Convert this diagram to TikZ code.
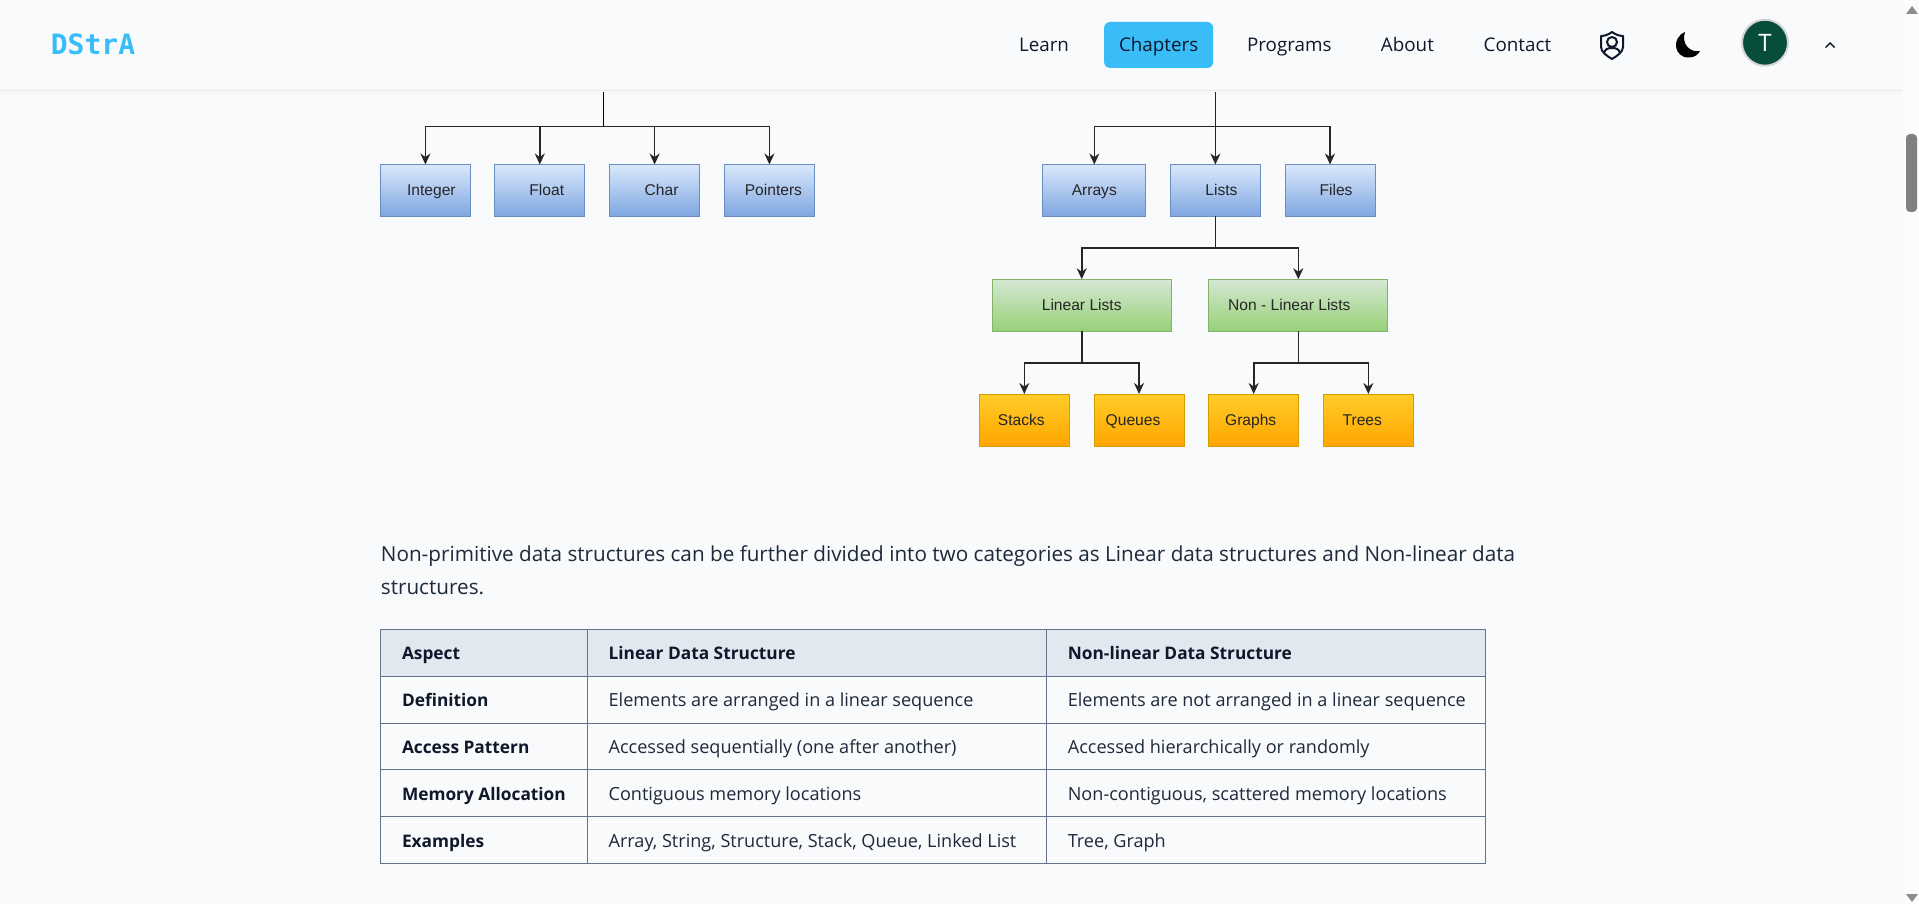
\documentclass[tikz,border=0pt]{standalone}
\usepackage{fontspec}
\setmainfont{Open Sans}
\newfontfamily\boxfont{Liberation Sans}
\newfontfamily\logofont{DejaVu Sans Mono}
\usetikzlibrary{arrows.meta}
\definecolor{cbg}{HTML}{F8FAFC}
\definecolor{csky}{HTML}{38BDF8}
\definecolor{cink}{HTML}{0F172A}
\definecolor{cpar}{HTML}{1E293B}
\definecolor{cgrid}{HTML}{64748B}
\definecolor{chead}{HTML}{E2E8F0}
\definecolor{cavatar}{HTML}{064E3B}
\definecolor{bt}{HTML}{DAE8FC}
\definecolor{bb}{HTML}{7EA6E0}
\definecolor{bd}{HTML}{6C8EBF}
\definecolor{gt}{HTML}{D5E8D4}
\definecolor{gb}{HTML}{97D077}
\definecolor{gd}{HTML}{82B366}
\definecolor{ot}{HTML}{FFCD28}
\definecolor{ob}{HTML}{FFA500}
\definecolor{od}{HTML}{D79B00}
\newcommand{\pxfont}[1]{\fontsize{#1}{#1}\selectfont}
\tikzset{
  boxbase/.style={rectangle, inner sep=0pt, outer sep=0pt, minimum height=52pt, line width=1pt, text=black!85, text height=13pt, text depth=3pt, font=\boxfont\pxfont{15.6}},
  bluebox/.style={boxbase, draw=bd, top color=bt, bottom color=bb},
  greenbox/.style={boxbase, draw=gd, top color=gt, bottom color=gb},
  orangebox/.style={boxbase, draw=od, top color=ot, bottom color=ob},
  link/.style={line width=1.6pt, draw=black!85, -{Stealth[length=11pt,width=10pt]}},
  trunk/.style={line width=1.6pt, draw=black!85},
  navitem/.style={text=cink, text height=16.6pt, text depth=4pt, font=\pxfont{18.8}, inner sep=0pt},
  paraline/.style={anchor=base west, inner sep=0pt, text=cpar, font=\pxfont{20.7}},
  cellhead/.style={anchor=base west, inner sep=0pt, text=cink, font=\bfseries\pxfont{17.3}},
  cellbody/.style={anchor=base west, inner sep=0pt, text=cpar, font=\pxfont{18.1}}
}
\begin{document}
\begin{tikzpicture}[x=1pt,y=-1pt]
  \useasboundingbox (0,0) rectangle (1919,904);
  \fill[cbg] (0,0) rectangle (1919,904);
  \fill[black!3] (0,91) rectangle (1902,94);
  \draw[line width=1pt, draw=black!9] (0,91) -- (1902,91);

  \node[text=csky, font=\logofont\bfseries\pxfont{28}, inner sep=0pt] (logo) at (93,44) {DStrA};
  \node[navitem, fill=csky, rounded corners=6pt, minimum width=109pt, minimum height=46pt] (chapters) at (1158.6,45) {Chapters};
  \foreach \n/\t/\x in {learn/Learn/1044, programs/Programs/1289.3, about/About/1407.4, contact/Contact/1517.4}
    \node[navitem] (\n) at (\x,45) {\t};

  \draw[cink, line width=2pt, line join=round] (1612,32) .. controls (1608,35) and (1604,36) .. (1601,36) -- (1601,47) .. controls (1601,52) and (1607,56) .. (1612,59) .. controls (1617,56) and (1623,52) .. (1623,47) -- (1623,36) .. controls (1620,36) and (1616,35) .. (1612,32) -- cycle;
  \draw[cink, line width=2pt] (1612,42) circle (5pt);
  \draw[cink, line width=2pt] (1604,53) .. controls (1605,49) and (1608,48) .. (1612,48) .. controls (1616,48) and (1619,49) .. (1620,53);
  \fill[black] (1685,32) .. controls (1671,38) and (1674,58) .. (1689,57.5) .. controls (1694,57.5) and (1698,55) .. (1700,51) .. controls (1690,53) and (1681,44) .. (1685,32) -- cycle;
  \node[circle, draw=black!17, line width=2pt, fill=cavatar, minimum size=46pt, inner sep=0pt, text=white, font=\pxfont{24}] (avatar) at (1765,42.7) {T};
  \draw[cink, line width=1.4pt] (1825.5,47.5) -- (1830,43) -- (1834.5,47.5);

  \fill[white!40!cbg] (1902,0) rectangle (1919,904);
  \fill[black!45] (1912,6) -- (1918,14) -- (1906,14) -- cycle;
  \fill[black!45] (1912,902) -- (1918,894) -- (1906,894) -- cycle;
  \fill[black!50, rounded corners=4pt] (1906,134) rectangle (1917,212);

  \foreach \n/\t/\x/\s in {integer/Integer/425.4/12pt, float/Float/539.8/14pt, char/Char/654.6/14pt, pointers/Pointers/769.4/8pt}
    \node[bluebox, minimum width=90pt] (\n) at (\x,190.5) {\hspace*{\s}\t};
  \foreach \n/\t/\x/\w/\s in {arrays/Arrays/1094.3/103/0pt, lists/Lists/1215.4/90/12pt, files/Files/1330/90/12pt}
    \node[bluebox, minimum width=\w pt] (\n) at (\x,190.5) {\hspace*{\s}\t};
  \foreach \n/\t/\x/\s in {linear/Linear Lists/1081.7/0pt, nonlinear/Non - Linear Lists/1298.3/-18pt}
    \node[greenbox, minimum width=179pt] (\n) at (\x,305.2) {\hspace*{\s}\t};
  \foreach \n/\t/\x/\s in {stacks/Stacks/1024.3/-6pt, queues/Queues/1139/-12pt, graphs/Graphs/1253.7/-6pt, trees/Trees/1368.3/-12pt}
    \node[orangebox, minimum width=90pt] (\n) at (\x,420) {\hspace*{\s}\t};

  \coordinate (primtop) at (603.9,92);
  \coordinate (nonprimtop) at (1215.4,92);
  \coordinate (primbus) at (603.9,126.7);
  \coordinate (nonprimbus) at (1215.4,126.7);
  \coordinate (listbus) at (1215.4,247.7);
  \coordinate (linbus) at (1081.7,362.7);
  \coordinate (nonbus) at (1298.3,362.7);
  \draw[line width=1pt] (primtop) -- (primbus);
  \foreach \n in {integer,float,char,pointers}
    \draw[link] (primbus) -| (\n.north);
  \draw[link, line width=1pt] (nonprimtop) -- (lists.north);
  \foreach \n in {arrays,files}
    \draw[link] (nonprimbus) -| (\n.north);
  \draw[trunk] (lists.south) -- (listbus);
  \foreach \n in {linear,nonlinear}
    \draw[link] (listbus) -| (\n.north);
  \draw[trunk] (linear.south) -- (linbus);
  \foreach \n in {stacks,queues}
    \draw[link] (linbus) -| (\n.north);
  \draw[trunk] (nonlinear.south) -- (nonbus);
  \foreach \n in {graphs,trees}
    \draw[link] (nonbus) -| (\n.north);

  \node[paraline] (para1) at (380.7,561.5) {Non-primitive data structures can be further divided into two categories as Linear data structures and Non-linear data};
  \node[paraline] (para2) at (380.7,594.5) {structures.};

  \fill[chead] (380.7,629.3) rectangle (1485.6,676.3);
  \draw[cgrid, line width=1pt] (380.7,629.3) rectangle (1485.6,863.3);
  \foreach \x in {587.3,1046.4}
    \draw[cgrid, line width=1pt] (\x,629.3) -- (\x,863.3);
  \foreach \y in {676.3,723.3,769.3,816.3}
    \draw[cgrid, line width=1pt] (380.7,\y) -- (1485.6,\y);
  \node[cellhead] (h1) at (401.8,659.7) {Aspect};
  \node[cellhead] (h2) at (608.4,659.7) {Linear Data Structure};
  \node[cellhead] (h3) at (1067.6,659.7) {Non-linear Data Structure};
  \foreach \y/\a/\b/\c [count=\i] in {
    706.7/Definition/Elements are arranged in a linear sequence/Elements are not arranged in a linear sequence,
    753.7/Access Pattern/Accessed sequentially (one after another)/Accessed hierarchically or randomly,
    800.7/Memory Allocation/Contiguous memory locations/{Non-contiguous, scattered memory locations},
    847.7/Examples/{Array, String, Structure, Stack, Queue, Linked List}/{Tree, Graph}} {
    \node[cellhead] (a\i) at (401.8,\y) {\a};
    \node[cellbody] (b\i) at (608.4,\y) {\b};
    \node[cellbody] (c\i) at (1067.6,\y) {\c};}
\end{tikzpicture}
\end{document}
